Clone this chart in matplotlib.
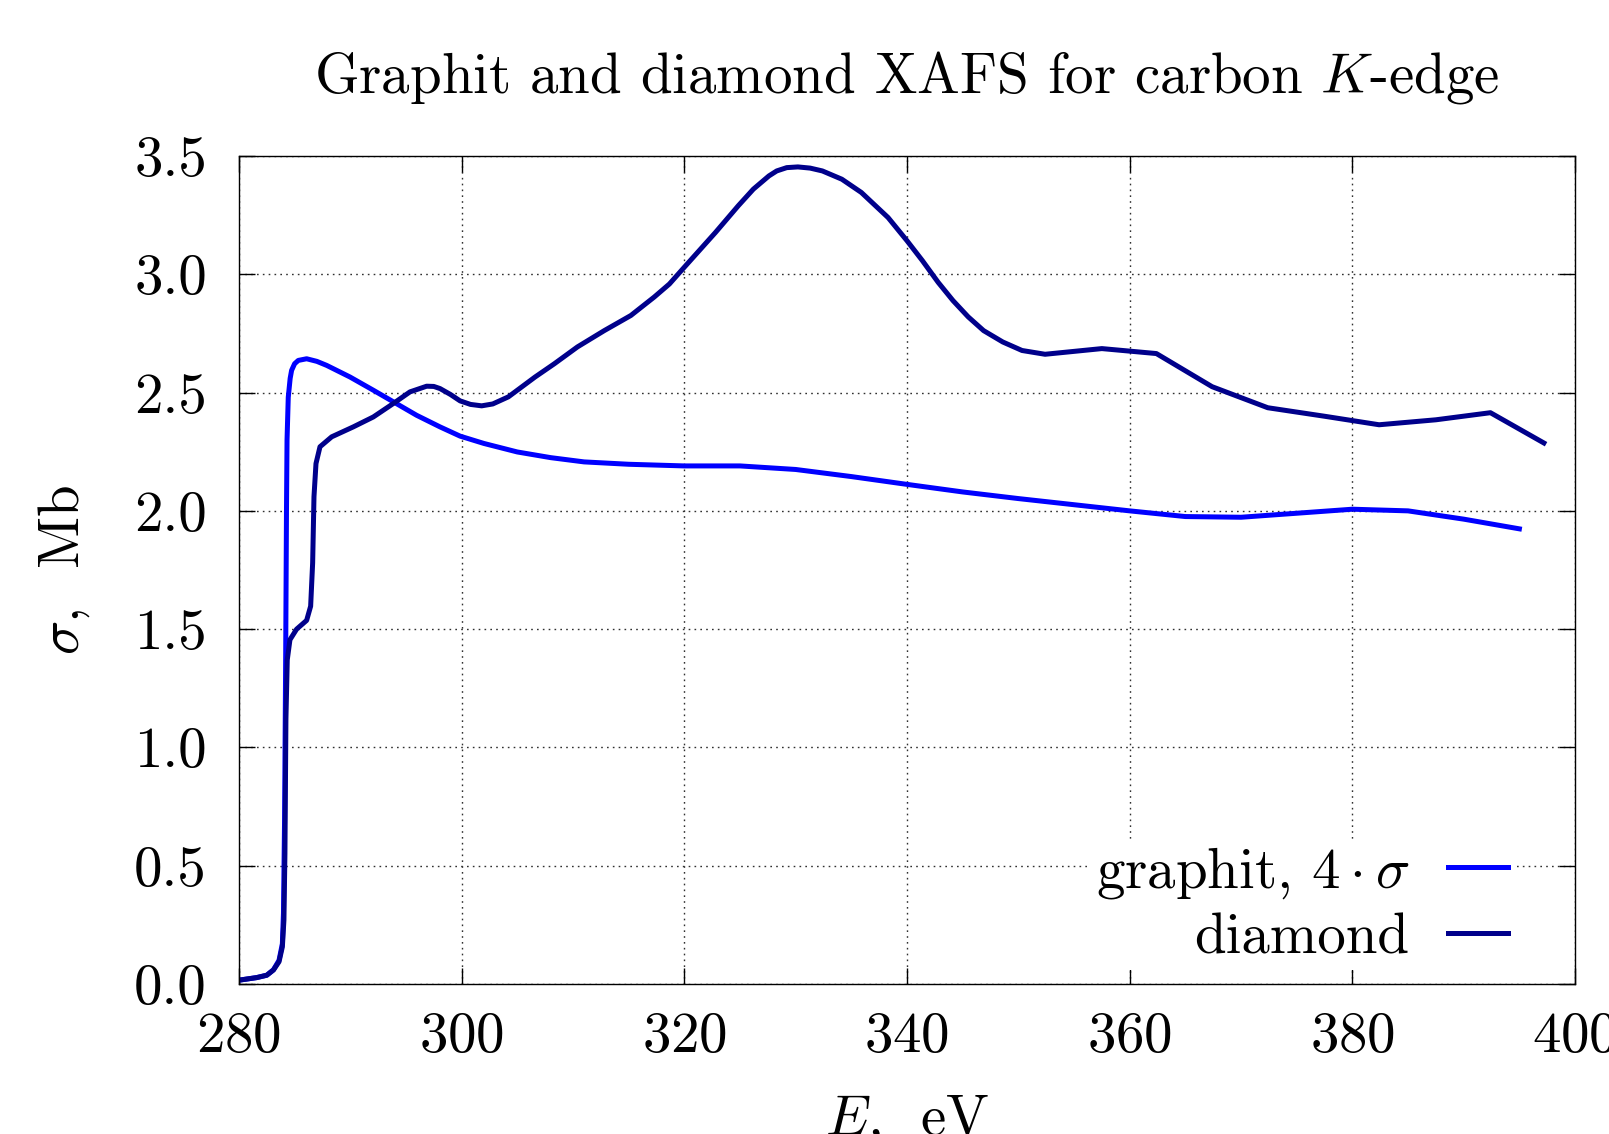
import matplotlib
matplotlib.use("Agg")
import matplotlib.pyplot as plt
from matplotlib.ticker import MultipleLocator, FormatStrFormatter

plt.rcParams['font.family'] = ['cmr10', 'DejaVu Serif']
plt.rcParams['mathtext.fontset'] = 'cm'
plt.rcParams['axes.formatter.use_mathtext'] = True

# graphite, 4*sigma (Mb) vs E (eV)
graphit_E = [280.0, 281.6, 282.5, 283.1, 283.6, 283.9, 284.0, 284.1, 284.2, 284.27,
             284.32, 284.43, 284.6, 284.73, 285.0, 285.33, 286.08, 287.0, 287.88,
             289.97, 292.07, 293.87, 295.96, 298.06, 299.86, 302.0, 305.0, 308.0,
             311.0, 315.0, 320.0, 325.0, 330.0, 335.0, 340.0, 345.0, 350.0, 355.0,
             360.0, 365.0, 370.0, 375.0, 380.0, 385.0, 390.0, 395.0]
graphit_sigma = [0.016, 0.027, 0.037, 0.06, 0.1, 0.17, 0.3, 0.7, 1.4, 2.0,
                 2.3, 2.48, 2.56, 2.594, 2.622, 2.636, 2.643, 2.632, 2.615,
                 2.566, 2.51, 2.461, 2.404, 2.355, 2.316, 2.285, 2.249, 2.225,
                 2.207, 2.197, 2.19, 2.19, 2.175, 2.145, 2.112, 2.08, 2.052, 2.026,
                 2.0, 1.976, 1.973, 1.99, 2.007, 2.0, 1.965, 1.924]

# diamond sigma (Mb) vs E (eV)
diamond_E = [280.0, 281.6, 282.5, 283.1, 283.6, 283.9, 284.04, 284.13, 284.22, 284.34,
             284.58, 285.18, 286.08, 286.44, 286.62, 286.74, 286.92, 287.28, 288.33,
             290.27, 292.07, 293.87, 295.36, 296.86, 297.5, 298.06, 299.0, 299.86,
             300.8, 301.8, 302.8, 304.2, 306.6, 308.33, 310.4, 312.81, 315.2, 317.3,
             318.66, 320.0, 322.8, 324.85, 326.2, 327.6, 328.3, 329.2, 330.2, 331.3,
             332.4, 334.15, 335.9, 338.3, 340.0, 341.38, 342.8, 344.13, 345.5, 346.88,
             348.6, 350.33, 352.4, 357.5, 362.4, 367.4, 372.4, 377.5, 382.4, 387.5,
             392.4, 397.2]
diamond_sigma = [0.016, 0.027, 0.037, 0.059, 0.094, 0.157, 0.27, 0.55, 1.12, 1.37,
                 1.455, 1.5, 1.537, 1.597, 1.78, 2.06, 2.2, 2.271, 2.313,
                 2.355, 2.397, 2.454, 2.503, 2.527, 2.526, 2.517, 2.492, 2.465,
                 2.450, 2.444, 2.452, 2.482, 2.566, 2.622, 2.693, 2.762, 2.826, 2.904,
                 2.959, 3.03, 3.177, 3.29, 3.36, 3.416, 3.437, 3.451, 3.454, 3.449,
                 3.437, 3.402, 3.346, 3.24, 3.142, 3.058, 2.966, 2.889, 2.82, 2.762,
                 2.714, 2.678, 2.662, 2.686, 2.665, 2.525, 2.436, 2.40, 2.364, 2.385,
                 2.415, 2.287]

fs = 41
fig = plt.figure(figsize=(16.09, 11.34), dpi=100)
ax = fig.add_axes([0.1485, 0.1323, 0.8304, 0.7301])

ax.plot(graphit_E, graphit_sigma, color='#0000ff', lw=3.6, label=r'graphit, $4\cdot\sigma$')
ax.plot(diamond_E, diamond_sigma, color='#00008b', lw=3.6, label='diamond')

ax.set_xlim(280, 400)
ax.set_ylim(0, 3.5)
ax.xaxis.set_major_locator(MultipleLocator(20))
ax.yaxis.set_major_locator(MultipleLocator(0.5))
ax.yaxis.set_major_formatter(FormatStrFormatter('%.1f'))
ax.tick_params(direction='in', length=11.5, width=1, top=True, right=True,
               labelsize=fs)
ax.tick_params(axis='y', pad=23)
ax.tick_params(axis='x', pad=20)
for sp in ax.spines.values():
    sp.set_linewidth(1)

ax.grid(True, color='#303030', linestyle=(0, (1.2, 3)), linewidth=1)

ax.set_title(r'Graphit and diamond XAFS for carbon $K$-edge', fontsize=fs, pad=46)
ax.set_xlabel(r'$E$,  eV', fontsize=fs, labelpad=22)
ax.set_ylabel(r'$\sigma$,  Mb', fontsize=fs)
ax.yaxis.set_label_coords(-0.110, 0.5)

leg = ax.legend(loc='lower right', bbox_to_anchor=(0.954, 0.0169), borderaxespad=0,
                markerfirst=False, fancybox=False, framealpha=1, edgecolor='none',
                handlelength=1.05, handletextpad=0.68, labelspacing=0.22,
                borderpad=0.1, fontsize=fs)
leg.get_frame().set_linewidth(0)

fig.savefig('out.png', dpi=100)
